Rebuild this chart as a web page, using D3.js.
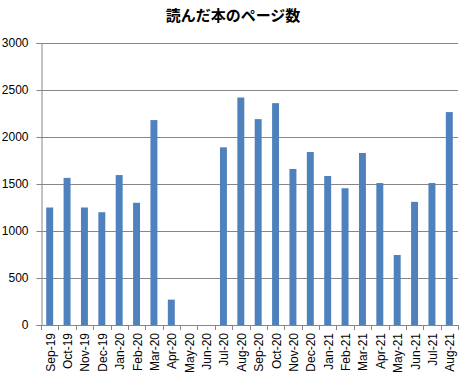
<!DOCTYPE html>
<html>
<head>
<meta charset="utf-8">
<script src="https://cdn.jsdelivr.net/npm/d3@7"></script>
<style>
  body { margin: 0; background: #fff; }
</style>
</head>
<body>
<div id="chart"></div>
<script>
// chart data
var months = ["Sep-19", "Oct-19", "Nov-19", "Dec-19", "Jan-20", "Feb-20", "Mar-20", "Apr-20",
              "May-20", "Jun-20", "Jul-20", "Aug-20", "Sep-20", "Oct-20", "Nov-20", "Dec-20",
              "Jan-21", "Feb-21", "Mar-21", "Apr-21", "May-21", "Jun-21", "Jul-21", "Aug-21"];
var pages = [1250, 1565, 1250, 1200, 1595, 1300, 2180, 270,
             0, 0, 1890, 2420, 2190, 2360, 1660, 1840,
             1585, 1455, 1830, 1510, 745, 1310, 1510, 2265];
var yTicks = [0, 500, 1000, 1500, 2000, 2500, 3000];
var title = "読んだ本のページ数";

var w = 462,
    h = 384,
    svg = d3.select("#chart")
            .append("svg")
            .attr("width", w)
            .attr("height", h);

// plot area
var pLeft = 41, pRight = 458, pTop = 43, pBottom = 325;

var x = d3.scaleBand()
    .domain(months)
    .range([pLeft, pRight])
    .paddingInner(0.6)
    .paddingOuter(0.3);

var y = d3.scaleLinear()
    .domain([0, 3000])
    .range([pBottom, pTop]);

var grey = "#868686";

// gridlines
svg.append("g")
    .selectAll("line")
    .data(yTicks.slice(1))
    .enter().append("line")
    .attr("x1", pLeft)
    .attr("x2", pRight)
    .attr("y1", function(d) { return Math.round(y(d)) + 0.5; })
    .attr("y2", function(d) { return Math.round(y(d)) + 0.5; })
    .attr("stroke", grey)
    .attr("stroke-width", 1);

// bars
svg.append("g")
    .selectAll("rect")
    .data(pages)
    .enter().append("rect")
    .attr("x", function(d, i) { return x(months[i]); })
    .attr("y", function(d) { return y(d); })
    .attr("width", x.bandwidth())
    .attr("height", function(d) { return pBottom - y(d); })
    .attr("fill", "#4F81BD");

// y axis
var yAxis = svg.append("g")
    .attr("transform", "translate(" + (pLeft + 0.5) + ",0)")
    .call(d3.axisLeft(y).tickValues(yTicks).tickFormat(d3.format("d")).tickSize(5).tickPadding(8));
yAxis.selectAll("line, path").attr("stroke", grey);
yAxis.selectAll("text")
    .attr("font-family", "Liberation Sans, Arial")
    .attr("font-size", "12px")
    .attr("fill", "#000");

// x axis: baseline plus ticks between categories
svg.append("line")
    .attr("x1", pLeft)
    .attr("x2", pRight)
    .attr("y1", pBottom + 0.5)
    .attr("y2", pBottom + 0.5)
    .attr("stroke", grey);

var edges = d3.range(months.length + 1).map(function(i) {
    return pLeft + i * (pRight - pLeft) / months.length;
});
svg.append("g")
    .selectAll("line")
    .data(edges)
    .enter().append("line")
    .attr("x1", function(d) { return Math.round(d) + 0.5; })
    .attr("x2", function(d) { return Math.round(d) + 0.5; })
    .attr("y1", pBottom)
    .attr("y2", pBottom + 5)
    .attr("stroke", grey);

svg.append("g")
    .selectAll("text")
    .data(months)
    .enter().append("text")
    .attr("transform", function(d) {
        return "translate(" + (x(d) + x.bandwidth() / 2 + 5) + "," + (pBottom + 8) + ") rotate(-90)";
    })
    .attr("text-anchor", "end")
    .attr("font-family", "Liberation Sans, Arial")
    .attr("font-size", "12px")
    .attr("fill", "#000")
    .text(function(d) { return d; });

// title
svg.append("text")
    .attr("x", 233)
    .attr("y", 21)
    .attr("text-anchor", "middle")
    .attr("font-family", "Noto Sans CJK JP")
    .attr("font-size", "15px")
    .attr("font-weight", "bold")
    .attr("fill", "#000")
    .text(title);
</script>
</body>
</html>
